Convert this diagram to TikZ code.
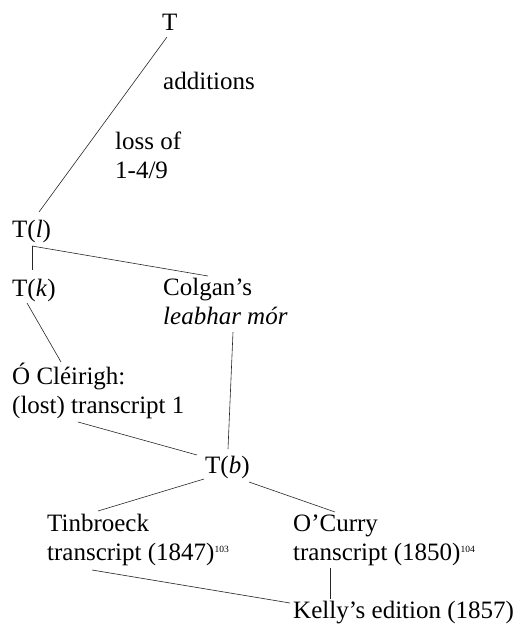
\documentclass[tikz,border=0pt]{standalone}
\usepackage{fontspec}
\setmainfont{Liberation Serif}
\usetikzlibrary{positioning}
\newcommand{\fnmark}[1]{\raisebox{8pt}{\fontsize{9.5}{10}\selectfont #1}}

\begin{document}
\begin{tikzpicture}[
  x=1pt, y=1pt,
  every node/.style={font=\fontsize{25}{29}\selectfont},
  wit/.style={anchor=base west, inner sep=0pt, align=left},
  stemma/.style={line width=0.6pt, black!85},
]
  \useasboundingbox (0,0) rectangle (524,-624);

  % Archetype and lost intermediaries (base = last line)
  \node[wit] (T)     at (162,-30)  {T};
  \node[wit] (add)   at (163,-89)  {additions};
  \node[wit] (loss)  at (115,-178) {loss of\\1-4/9};
  \node[wit] (Tl)    at (12,-237)  {T(\textit{l})};
  \node[wit] (Tk)    at (12,-296)  {T(\textit{k})};
  \node[wit] (colg)  at (163,-324) {Colgan's\\\textit{leabhar mór}};
  \node[wit] (cleir) at (12,-413)  {Ó Cléirigh:\\(lost) transcript 1};
  \node[wit] (Tb)    at (205,-473) {T(\textit{b})};

  % Modern copies
  \node[wit] (tinb)  at (47,-560)  {Tinbroeck\\transcript (1847)\fnmark{103}};
  \node[wit] (ocur)  at (293,-560) {O'Curry\\transcript (1850)\fnmark{104}};
  \node[wit] (kelly) at (293,-618) {Kelly's edition (1857)};

  \draw[stemma] ([shift={(5,-7)}]T.base west)    -- ([shift={(27,25)}]Tl.base west);
  \draw[stemma] ([shift={(20,-9)}]Tl.base west)  -- ([shift={(20,26)}]Tk.base west);
  \draw[stemma] ([shift={(20,-9)}]Tl.base west)  -- ([shift={(45,48)}]colg.base west);
  \draw[stemma] ([shift={(15,-7)}]Tk.base west)  -- ([shift={(49,51)}]cleir.base west);
  \draw[stemma] ([shift={(66,-9)}]cleir.base west) -- ([shift={(-8,18)}]Tb.base west);
  \draw[stemma] ([shift={(70,-8)}]colg.base west)  -- ([shift={(23,24)}]Tb.base west);
  \draw[stemma] ([shift={(-1,-6)}]Tb.base west)  -- ([shift={(51,49)}]tinb.base west);
  \draw[stemma] ([shift={(44,-9)}]Tb.base west)  -- ([shift={(42,48)}]ocur.base west);
  \draw[stemma] ([shift={(45,-10)}]tinb.base west) -- ([shift={(-3,15)}]kelly.base west);
  \draw[stemma] ([shift={(37,-8)}]ocur.base west) -- ([shift={(37,19)}]kelly.base west);
\end{tikzpicture}
\end{document}
